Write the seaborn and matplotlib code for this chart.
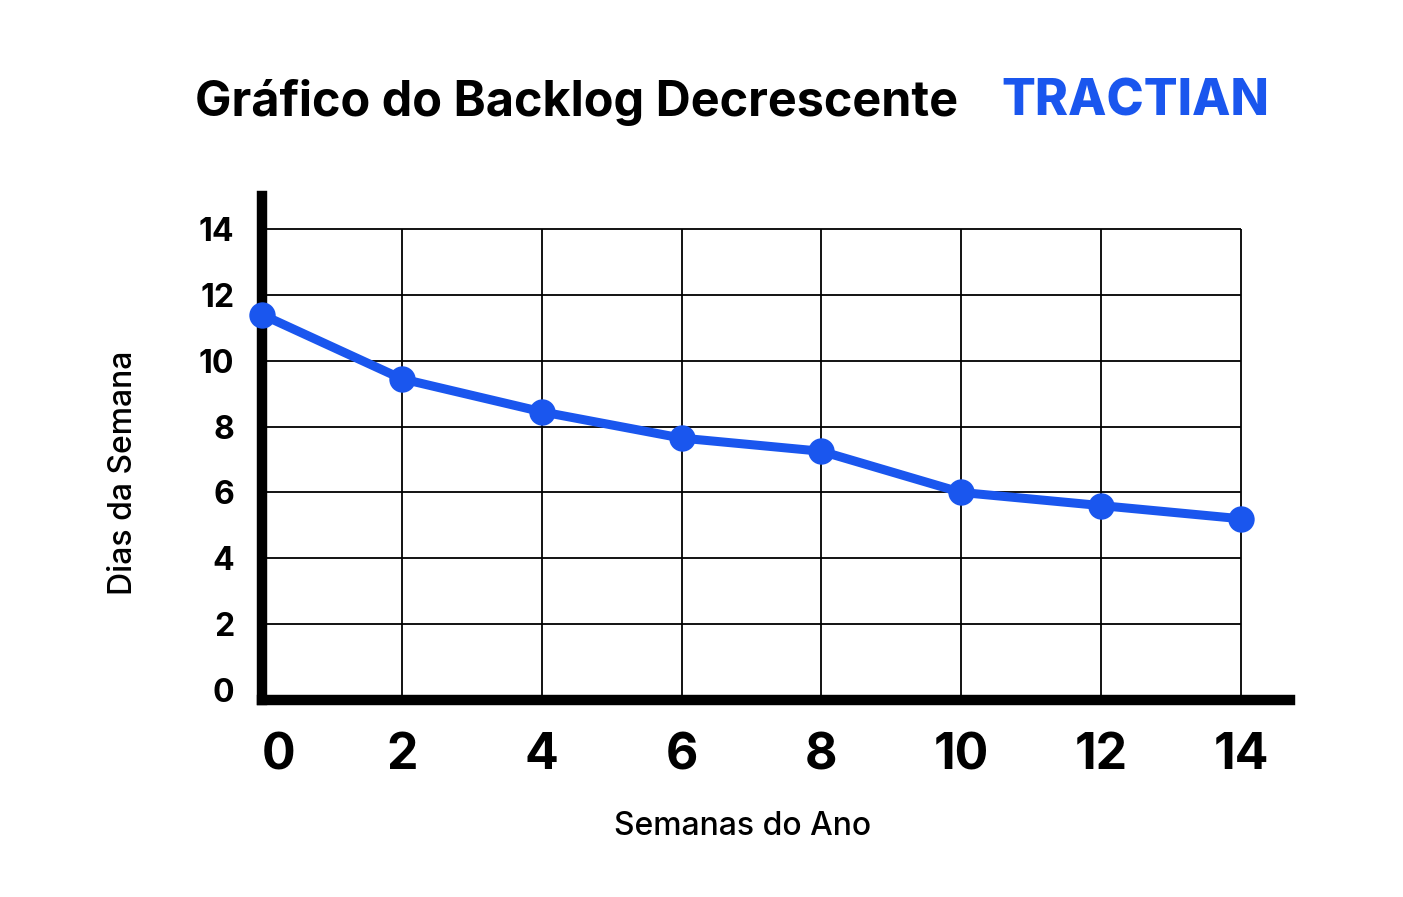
import matplotlib.pyplot as plt
import matplotlib.transforms as mtransforms
import seaborn as sns
import pandas as pd

# values
semanas = [0, 2, 4, 6, 8, 10, 12, 14]
dias = [11.4, 9.45, 8.45, 7.65, 7.25, 6.0, 5.6, 5.2]
y_ticks = [0, 2, 4, 6, 8, 10, 12, 14]
x_ticks = [0, 2, 4, 6, 8, 10, 12, 14]

title = "Gráfico do Backlog Decrescente"
brand = "TRACTIAN"
xlabel = "Semanas do Ano"
ylabel = "Dias da Semana"

blue = "#1a56ee"

sns.set_style("white")
plt.rcParams["font.family"] = ["Inter", "DejaVu Sans"]
plt.rcParams["text.color"] = "black"
plt.rcParams["xtick.color"] = "black"
plt.rcParams["ytick.color"] = "black"

df = pd.DataFrame({"semana": semanas, "dias": dias})

fig = plt.figure(figsize=(14.03, 8.97), dpi=100)
ax = fig.add_axes([0.1867, 0.2194, 0.7327, 0.562])

# grid drawn only inside 0..14 like the original
ax.hlines(y_ticks[1:], x_ticks[0], x_ticks[-1], color="black", lw=1.3, zorder=1)
ax.vlines(x_ticks[1:], -0.4, y_ticks[-1], color="black", lw=1.3, zorder=1)

sns.lineplot(data=df, x="semana", y="dias", ax=ax, color=blue, lw=6.5,
             marker="o", markersize=19, markeredgewidth=0, zorder=3,
             clip_on=False)

ax.set_xlim(0, 14.7)
ax.set_ylim(-0.31, 15.0)
ax.set_xticks(x_ticks)
ax.set_yticks(y_ticks)
ax.set_xticklabels([str(v) for v in x_ticks], fontsize=36, fontweight="bold")
ax.set_yticklabels([str(v) for v in y_ticks], fontsize=23, fontweight="bold")
ax.tick_params(axis="x", length=0, pad=23)
ax.tick_params(axis="y", length=0, pad=20)

# first x label sits a bit to the right in the reference
lbl0 = ax.get_xticklabels()[0]
lbl0.set_transform(lbl0.get_transform() + mtransforms.ScaledTranslation(17 / 100, 0, fig.dpi_scale_trans))

for side in ["top", "right"]:
    ax.spines[side].set_visible(False)
for side in ["left", "bottom"]:
    ax.spines[side].set_linewidth(7.5)
    ax.spines[side].set_color("black")
    ax.spines[side].set_capstyle("projecting")
    ax.spines[side].set_zorder(2)

ax.set_xlabel("")
ax.set_ylabel("")
fig.text(0.5296, 0.079, xlabel, fontsize=23, fontweight="medium", ha="center", va="center")
fig.text(0.088, 0.473, ylabel, fontsize=23, fontweight="medium", ha="center", va="center",
         rotation=90)

fig.text(0.139, 0.886, title, fontsize=35, fontweight="bold", ha="left", va="center")
fig.text(0.905, 0.886, brand, fontsize=36, fontweight="heavy", ha="right", va="center",
         color=blue)

fig.savefig("out.png", dpi=100, facecolor="white")
